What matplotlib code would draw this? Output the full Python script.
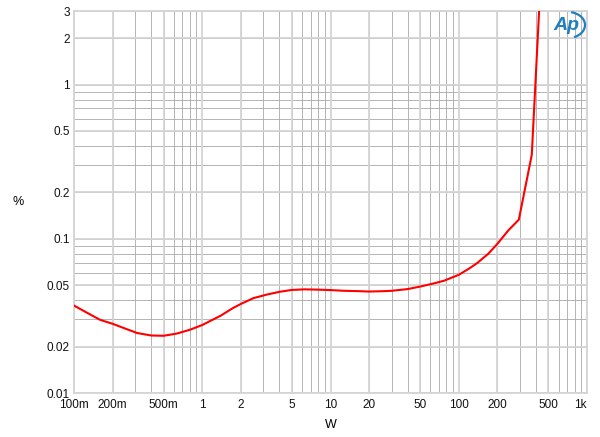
import numpy as np
import matplotlib
matplotlib.use('Agg')
import matplotlib.pyplot as plt
from matplotlib.ticker import FixedLocator, NullFormatter
from matplotlib.patches import Arc

plt.rcParams['font.family'] = ['Liberation Sans', 'DejaVu Sans']

# THD+N vs output power
power = [0.1, 0.125, 0.16, 0.2, 0.25, 0.31, 0.4, 0.5, 0.635, 0.8, 1.0, 1.4,
         1.7, 2.0, 2.5, 3.2, 4.0, 5.0, 6.3, 8.0, 10, 12.7, 16, 20, 25, 30, 40,
         50, 63, 77, 100, 120, 139, 170, 200, 245, 294, 371, 425]
thd = [0.0369, 0.0333, 0.0298, 0.0281, 0.0262, 0.0245, 0.0236, 0.0235,
       0.0243, 0.0257, 0.0276, 0.0318, 0.0352, 0.0378, 0.0412, 0.0435, 0.0453,
       0.0466, 0.047, 0.0468, 0.0465, 0.046, 0.0458, 0.0455, 0.0457, 0.046,
       0.0472, 0.049, 0.0512, 0.0535, 0.0584, 0.064, 0.0695, 0.08, 0.0927,
       0.114, 0.133, 0.35, 3.2]

xticks = [0.1, 0.2, 0.5, 1, 2, 5, 10, 20, 50, 100, 200, 500, 1000]
xlabels = ['100m', '200m', '500m', '1', '2', '5', '10', '20', '50', '100', '200', '500', '1k']
yticks = [0.01, 0.02, 0.05, 0.1, 0.2, 0.5, 1, 2, 3]
ylabels = ['0.01', '0.02', '0.05', '0.1', '0.2', '0.5', '1', '2', '3']

fig = plt.figure(figsize=(6.0, 4.37), dpi=100)
ax = fig.add_axes([74 / 600, 1 - 393 / 437, (587 - 74) / 600, (393 - 11) / 437])
ax.set_xscale('log')
ax.set_yscale('log')
ax.set_xlim(0.1, 1000)
ax.set_ylim(0.01, 3)

# all decade sub-lines, darker thin
minor_x = [m * 10.0 ** e for e in range(-1, 3) for m in range(2, 10)] + [1000]
minor_y = [m * 10.0 ** e for e in range(-2, 1) for m in range(1, 10)] + [1, 2, 3]
for v in minor_x:
    ax.axvline(v, color='#a8a8a8', lw=0.6, zorder=1)
for v in minor_y:
    ax.axhline(v, color='#a8a8a8', lw=0.6, zorder=1)
for v in xticks:
    ax.axvline(v, color='#d4d4d4', lw=1.3, zorder=1)
for v in yticks:
    ax.axhline(v, color='#d4d4d4', lw=1.3, zorder=1)

ax.plot(power, thd, color='#ff0000', lw=1.5, zorder=3)

ax.xaxis.set_major_locator(FixedLocator(xticks))
ax.xaxis.set_minor_locator(FixedLocator([]))
ax.set_xticklabels(xlabels)
ax.yaxis.set_major_locator(FixedLocator(yticks))
ax.yaxis.set_minor_locator(FixedLocator([]))
ax.yaxis.set_minor_formatter(NullFormatter())
ax.set_yticklabels(ylabels)
ax.tick_params(axis='x', length=0, labelsize=8.5, pad=4, colors='#111111')
ax.tick_params(axis='y', length=0, labelsize=8.5, pad=3, colors='#111111')
ax.get_xticklabels()[-1].set_horizontalalignment('right')

for s in ax.spines.values():
    s.set_color('#d4d4d4')
    s.set_linewidth(1.3)

ax.set_xlabel('W', fontsize=9, labelpad=6)
fig.text(18 / 600, 1 - 202 / 437, '%', fontsize=9, ha='center', va='center')

# Ap logo
fig.text(566 / 600, 1 - 26 / 437, 'Ap', color='#1f7fc0', fontsize=14,
         fontweight='bold', fontstyle='italic', ha='center', va='center', zorder=5)
ax.add_patch(Arc((568 / 600, 1 - 25 / 437), 34 / 600, 26 / 437, theta1=-70, theta2=80,
                 transform=fig.transFigure, color='#1f7fc0', lw=1.6, zorder=5,
                 clip_on=False))

fig.savefig('out.png', dpi=100, facecolor='white')
